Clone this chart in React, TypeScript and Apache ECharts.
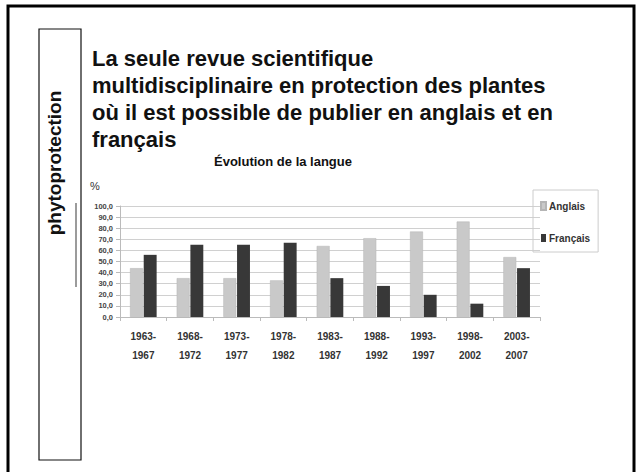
import React, { useEffect, useRef } from "react";
import * as echarts from "echarts";

const categories = ["1963-\n1967", "1968-\n1972", "1973-\n1977", "1978-\n1982", "1983-\n1987", "1988-\n1992", "1993-\n1997", "1998-\n2002", "2003-\n2007"];
const anglais = [44, 35, 35, 33, 64, 71, 77, 86, 54];
const francais = [56, 65, 65, 67, 35, 28, 20, 12, 44];
const seriesNames = ["Anglais", "Français"];
const headline = "La seule revue scientifique\nmultidisciplinaire en protection des plantes\noù il est possible de publier en anglais et en\nfrançais";
const chartTitle = "Évolution de la langue";
const unitLabel = "%";
const brand = "phytoprotection";

const FONT = "'Liberation Sans', Arial, sans-serif";

export default function App() {
  const ref = useRef<HTMLDivElement>(null);
  useEffect(() => {
    if (!ref.current) return;
    const chart = echarts.init(ref.current, null, { renderer: "svg" });
    chart.setOption({
      animation: false,
      backgroundColor: "#ffffff",
      textStyle: { fontFamily: FONT },
      grid: { left: 120, right: 98, top: 206, bottom: 155, containLabel: false },
      legend: {
        orient: "vertical",
        left: 533,
        top: 190,
        padding: [11, 8, 9, 7],
        itemGap: 22,
        itemWidth: 5,
        itemHeight: 8,
        borderColor: "#cccccc",
        borderWidth: 1,
        icon: "rect",
        textStyle: { fontSize: 10, fontWeight: "bold", color: "#333", fontFamily: FONT, padding: [0, 0, 0, -2] },
        data: seriesNames,
      },
      xAxis: {
        type: "category",
        data: categories,
        axisLine: { lineStyle: { color: "#bbbbbb" } },
        axisTick: { show: true, length: 4, lineStyle: { color: "#bbbbbb" } },
        axisLabel: { fontSize: 10, fontWeight: "bold", color: "#333", lineHeight: 19, margin: 10, fontFamily: FONT },
      },
      yAxis: {
        type: "value",
        min: 0,
        max: 100,
        interval: 10,
        axisLine: { show: true, lineStyle: { color: "#bbbbbb" } },
        axisTick: { show: true, length: 4, lineStyle: { color: "#bbbbbb" } },
        splitLine: { lineStyle: { color: "#d0d0d0" } },
        axisLabel: {
          fontSize: 7.5,
          fontWeight: "bold",
          color: "#444",
          margin: 7,
          fontFamily: FONT,
          formatter: (v: number) => v.toFixed(1).replace(".", ","),
        },
      },
      series: [
        {
          name: seriesNames[0],
          type: "bar",
          data: anglais,
          barGap: "6%",
          barCategoryGap: "43%",
          itemStyle: { color: "#c9c9c9", borderColor: "#b5b5b5", borderWidth: 0.5 },
        },
        {
          name: seriesNames[1],
          type: "bar",
          data: francais,
          itemStyle: { color: "#383838" },
        },
      ],
      graphic: [
        {
          type: "rect",
          shape: { x: 8, y: 6, width: 626, height: 520 },
          style: { fill: "none", stroke: "#000", lineWidth: 3 },
          silent: true,
        },
        {
          type: "rect",
          shape: { x: 39, y: 29, width: 42, height: 431 },
          style: { fill: "none", stroke: "#111", lineWidth: 1.2 },
          silent: true,
        },
        {
          type: "line",
          shape: { x1: 76, y1: 203, x2: 76, y2: 287 },
          style: { stroke: "#7a7a7a", lineWidth: 1.5 },
          silent: true,
        },
        {
          type: "text",
          x: 54,
          y: 163,
          rotation: Math.PI / 2,
          style: {
            text: brand,
            fontSize: 19,
            fontWeight: "bold",
            fontFamily: FONT,
            fill: "#111",
            textAlign: "center",
            textVerticalAlign: "middle",
          },
        },
        {
          type: "text",
          x: 92,
          y: 45,
          style: {
            text: headline,
            fontSize: 22,
            fontWeight: "bold",
            fontFamily: FONT,
            lineHeight: 27,
            fill: "#111",
            textAlign: "left",
            textVerticalAlign: "top",
          },
        },
        {
          type: "text",
          x: 283,
          y: 161,
          style: {
            text: chartTitle,
            fontSize: 13,
            fontWeight: "bold",
            fontFamily: FONT,
            fill: "#111",
            textAlign: "center",
            textVerticalAlign: "middle",
          },
        },
        {
          type: "text",
          x: 95,
          y: 186,
          style: {
            text: unitLabel,
            fontSize: 11,
            fontFamily: FONT,
            fill: "#333",
            textAlign: "center",
            textVerticalAlign: "middle",
          },
        },
      ],
    });
    return () => chart.dispose();
  }, []);
  return (
    <div
      ref={ref}
      style={{ position: "fixed", left: 0, top: 0, width: 638, height: 472 }}
    />
  );
}
